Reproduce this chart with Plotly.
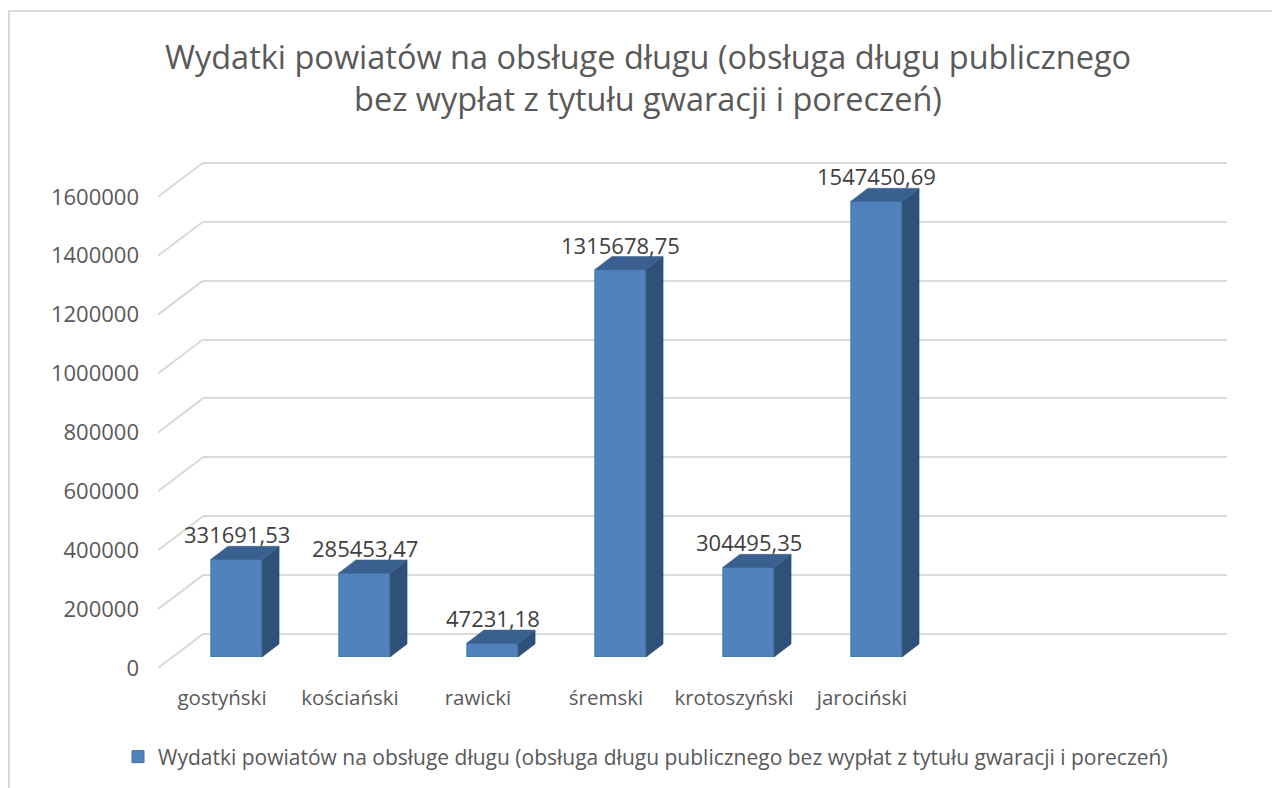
import plotly.graph_objects as go

# ---------------- data ----------------
categories = ["gostyński", "kościański", "rawicki", "śremski", "krotoszyński", "jarociński"]
values = [331691.53, 285453.47, 47231.18, 1315678.75, 304495.35, 1547450.69]
series_name = "Wydatki powiatów na obsługe długu (obsługa długu publicznego bez wypłat z tytułu gwaracji i poreczeń)"
title_text = "Wydatki powiatów na obsługe długu (obsługa długu publicznego<br>bez wypłat z tytułu gwaracji i poreczeń)"
y_ticks = [0, 200000, 400000, 600000, 800000, 1000000, 1200000, 1400000, 1600000]
n_slots = 8  # category slots on the floor

# ---------------- geometry helpers ----------------
W, H = 1272, 788
PXU = 294.5 / 1e6          # pixels per data unit on the value axis
SLOT = 128.0               # pixels per category slot


def xp(px):
    return px / W


def yp(py):
    return 1 - py / H


FONT = "'Open Sans', 'Noto Sans', sans-serif"
GREY = "#595959"
GRID = "#D9D9D9"
FRONT = "#4F81BD"
SIDE = "#2F5179"
TOP = "#3A6090"

# 3D offsets (bar depth) in data units of the bar axes
DX = 17 / SLOT
DY = 13 / PXU
HALF = 0.2

fig = go.Figure()

# bars (front faces) on the middle-depth plane
fig.add_trace(go.Bar(
    x=list(range(len(categories))), y=values, width=[2 * HALF] * len(values),
    marker=dict(color=FRONT, line=dict(color="#41719C", width=1)),
    name=series_name, xaxis="x2", yaxis="y2", showlegend=True,
    hoverinfo="skip",
))

# dummy traces so the other axes exist
fig.add_trace(go.Scatter(x=[None], y=[None], xaxis="x3", yaxis="y3",
                         showlegend=False, hoverinfo="skip"))
fig.add_trace(go.Scatter(x=[None], y=[None], xaxis="x", yaxis="y",
                         showlegend=False, hoverinfo="skip"))

shapes = []
# outer chart border
shapes.append(dict(type="rect", xref="paper", yref="paper",
                   x0=xp(9), x1=1.05, y0=-0.05, y1=yp(11),
                   line=dict(color=GRID, width=2), layer="below"))

# slanted side-wall grid lines (front plane -> back wall)
for v in y_ticks:
    shapes.append(dict(type="line", xref="x3", yref="y3",
                       xsizemode="pixel", xanchor=-0.5, x0=0, x1=45,
                       ysizemode="pixel", yanchor=v, y0=0, y1=34,
                       line=dict(color=GRID, width=2), layer="below"))

# 3D side and top faces of every bar
for i, v in enumerate(values):
    side = (f"M {i + HALF},0 L {i + HALF + DX},{DY} "
            f"L {i + HALF + DX},{v + DY} L {i + HALF},{v} Z")
    top = (f"M {i - HALF},{v} L {i - HALF + DX},{v + DY} "
           f"L {i + HALF + DX},{v + DY} L {i + HALF},{v} Z")
    shapes.append(dict(type="path", xref="x2", yref="y2", path=side,
                       fillcolor=SIDE, line=dict(color=SIDE, width=0.5), layer="above"))
    shapes.append(dict(type="path", xref="x2", yref="y2", path=top,
                       fillcolor=TOP, line=dict(color=TOP, width=0.5), layer="above"))

annotations = []
for i, v in enumerate(values):
    annotations.append(dict(xref="x2", yref="y2", x=i, y=v,
                            text=f"{v:.2f}".replace(".", ","),
                            showarrow=False, yanchor="bottom", yshift=8,
                            font=dict(family=FONT, size=22, color="#404040")))

fig.update_layout(
    width=W, height=H,
    margin=dict(l=0, r=0, t=0, b=0, autoexpand=False),
    paper_bgcolor="white", plot_bgcolor="rgba(0,0,0,0)",
    title=dict(text=title_text, x=xp(648), xanchor="center",
               y=1 - 69 / H, yanchor="top", yref="container",
               font=dict(family=FONT, size=32.5, color=GREY)),
    showlegend=True,
    legend=dict(orientation="h", x=xp(118), xanchor="left",
                y=yp(757), yanchor="middle",
                font=dict(family=FONT, size=21, color=GREY),
                bgcolor="rgba(0,0,0,0)"),
    # back wall (grid)
    xaxis=dict(domain=[xp(203), xp(1227)], range=[-0.5, n_slots - 0.5],
               visible=False, anchor="y", fixedrange=True),
    yaxis=dict(domain=[yp(650), yp(130)], range=[-16 / PXU, (634 - 130) / PXU],
               anchor="x", tickvals=y_ticks, showticklabels=False, ticks="",
               showgrid=True, gridcolor=GRID, gridwidth=2, zeroline=False,
               showline=False, fixedrange=True),
    # bars
    xaxis2=dict(domain=[xp(172.5), xp(172.5 + SLOT * n_slots)], range=[-0.5, n_slots - 0.5],
                visible=False, anchor="y2", fixedrange=True),
    yaxis2=dict(domain=[yp(657), yp(120)], range=[0, (657 - 120) / PXU],
                visible=False, anchor="x2", fixedrange=True),
    # front plane (labels)
    xaxis3=dict(domain=[xp(158), xp(158 + SLOT * n_slots)], range=[-0.5, n_slots - 0.5],
                anchor="y3", tickvals=list(range(len(categories))), ticktext=categories,
                ticks="", showgrid=False, zeroline=False, showline=False,
                tickfont=dict(family=FONT, size=20.5, color=GREY),
                ticklabelstandoff=15, automargin=False, fixedrange=True),
    yaxis3=dict(domain=[yp(668), yp(130)], range=[0, (668 - 130) / PXU],
                anchor="x3", tickvals=y_ticks, ticktext=[str(t) for t in y_ticks],
                ticks="", showgrid=False, zeroline=False, showline=False,
                tickfont=dict(family=FONT, size=22, color=GREY),
                ticklabelstandoff=18, automargin=False, fixedrange=True),
    shapes=shapes,
    annotations=annotations,
)

fig.write_html("out.html", config={"displayModeBar": False},
               post_script="document.body.style.margin='0';document.body.style.overflow='hidden';")
